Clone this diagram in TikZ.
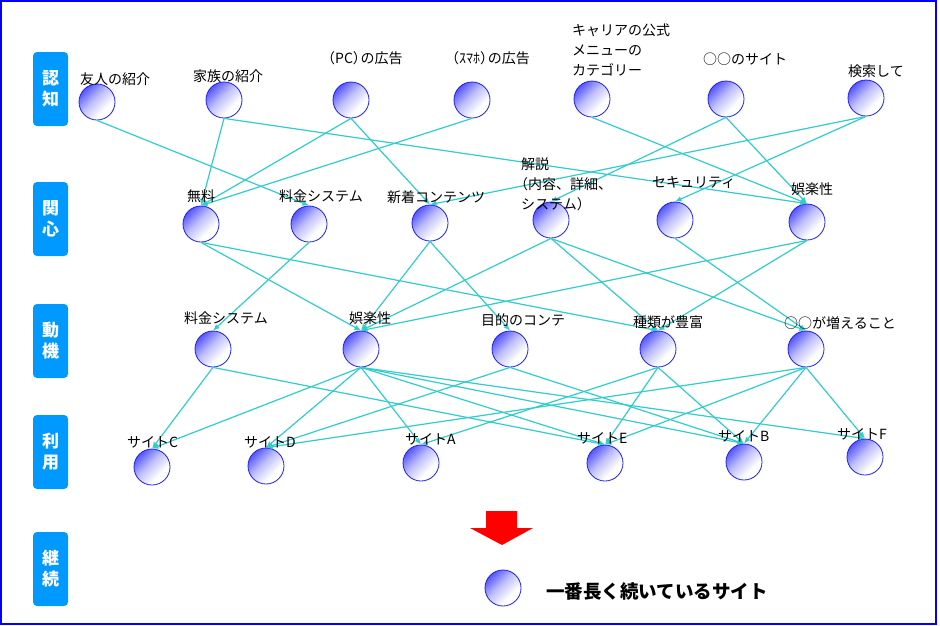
\documentclass[tikz,border=0pt]{standalone}
\usepackage{fontspec}
\newfontfamily\jp{Noto Sans CJK JP}
\usetikzlibrary{arrows.meta}
\definecolor{edgec}{RGB}{51,204,204}
\definecolor{stagec}{RGB}{0,153,255}
\definecolor{ballc}{RGB}{50,50,255}
\definecolor{ballmid}{RGB}{190,190,255}
\definecolor{balledge}{RGB}{30,30,235}
\pgfdeclareverticalshading{ballshade}{100bp}{color(0bp)=(white); color(35bp)=(white); color(55bp)=(ballmid); color(82bp)=(ballc); color(100bp)=(ballc)}
\tikzset{
 ball/.style={circle, minimum size=36pt, inner sep=0pt, draw=balledge, line width=0.8pt,
   shading=ballshade, shading angle=45},
 lbl/.style={anchor=base west, inner sep=0pt, font=\jp\fontsize{14}{20}\selectfont, align=left},
 mlbl/.style={anchor=north west, inner sep=0pt, font=\jp\fontsize{14}{20}\selectfont, align=left},
 stage/.style={rounded corners=4pt, fill=stagec, minimum width=35pt, minimum height=74pt,
   inner sep=0pt, text=white, font=\jp\bfseries\fontsize{17}{21}\selectfont, align=center},
 conn/.style={draw=edgec, line width=1.2pt, -{Latex[length=6.5pt,width=5.5pt]}},
}
\begin{document}
\begin{tikzpicture}[x=1pt,y=-1pt]
\useasboundingbox (0,0) rectangle (940,625);
\fill[white] (0,0) rectangle (940,625);
\draw[blue, line width=2pt] (1,1) rectangle (936,623.5);

% stage boxes
\node[stage] (s1) at (50.5,89) {認\\知};
\node[stage] (s2) at (50.5,219) {関\\心};
\node[stage] (s3) at (50.5,341) {動\\機};
\node[stage] (s4) at (50.5,452) {利\\用};
\node[stage] (s5) at (50.5,569) {継\\続};

% balls
\node[ball] (f1) at (97,102) {};
\node[ball] (f2) at (224,100) {};
\node[ball] (f3) at (351,100) {};
\node[ball] (f4) at (472,100) {};
\node[ball] (f5) at (592,99) {};
\node[ball] (f6) at (726,99) {};
\node[ball] (f7) at (866,98) {};
\node[ball] (m1) at (201,224) {};
\node[ball] (m2) at (309,224) {};
\node[ball] (m3) at (430,223) {};
\node[ball] (m4) at (551,220) {};
\node[ball] (m5) at (675,220) {};
\node[ball] (m6) at (807,222) {};
\node[ball] (d1) at (213,349) {};
\node[ball] (d2) at (361,349) {};
\node[ball] (d3) at (510,349) {};
\node[ball] (d4) at (658,349) {};
\node[ball] (d5) at (806,349) {};
\node[ball] (uC) at (152,467) {};
\node[ball] (uD) at (266,466) {};
\node[ball] (uA) at (421,463) {};
\node[ball] (uE) at (605,463) {};
\node[ball] (uB) at (744,462) {};
\node[ball] (uF) at (865,457) {};
\node[ball] (leg) at (503,588) {};

% connectors
\foreach \a/\b in {f1/m2, f2/m1, f2/m6, f3/m1, f3/m3, f4/m1, f5/m6, f6/m4, f6/m6, f7/m3, f7/m5,
  m1/d2, m1/d4, m2/d1, m3/d2, m3/d3, m4/d2, m4/d4, m4/d5, m5/d5, m6/d2, m6/d4,
  d1/uC, d1/uE, d2/uC, d2/uD, d2/uA, d2/uE, d2/uB, d2/uF, d3/uD, d3/uB,
  d4/uA, d4/uE, d4/uB, d5/uD, d5/uE, d5/uB, d5/uF}
  \draw[conn] (\a.south) -- (\b.north);

% labels
\node[lbl] (tf1) at (80,84) {友人の紹介};
\node[lbl] (tf2) at (193,81) {家族の紹介};
\node[lbl] (tf3) at (321,63) {（PC）\kern-0.45emの広告};
\node[lbl] (tf4) at (445,63) {（ｽﾏﾎ）\kern-0.45emの広告};
\node[mlbl] (tf5) at (572,24) {キャリアの公式\\メニューの\\カテゴリー};
\node[lbl] (tf6) at (703,64) {○○のサイト};
\node[lbl] (tf7) at (848,76) {検索して};
\node[lbl] (tm1) at (187,201) {無料};
\node[lbl] (tm2) at (279,201) {料金システム};
\node[lbl] (tm3) at (387,202) {新着コンテンツ};
\node[mlbl] (tm4) at (521,158) {解説\\\kern-0.5em（内容、詳細、\\システム）};
\node[lbl] (tm5) at (652,187) {セキュリティ};
\node[lbl] (tm6) at (791,194) {娯楽性};
\node[lbl] (td1) at (184,323) {料金システム};
\node[lbl] (td2) at (349,323) {娯楽性};
\node[lbl] (td3) at (481,325) {目的のコンテ};
\node[lbl] (td4) at (633,327) {種類が豊富};
\node[lbl] (td5) at (784,328) {○○が増えること};
\node[lbl] (tuC) at (127,447) {サイトC};
\node[lbl] (tuD) at (244,447) {サイトD};
\node[lbl] (tuA) at (405,444) {サイトA};
\node[lbl] (tuE) at (577,443) {サイトE};
\node[lbl] (tuB) at (718,441) {サイトB};
\node[lbl] (tuF) at (837,439) {サイトF};

% red arrow
\fill[red] (486,511) -- (517,511) -- (517,528) -- (533,528) -- (502,545) -- (470,528) -- (486,528) -- cycle;

% legend text
\node[anchor=base west, inner sep=0pt, font=\jp\bfseries\fontsize{18.5}{22}\selectfont] (legt) at (546,598) {一番長く続いているサイト};
\end{tikzpicture}
\end{document}
